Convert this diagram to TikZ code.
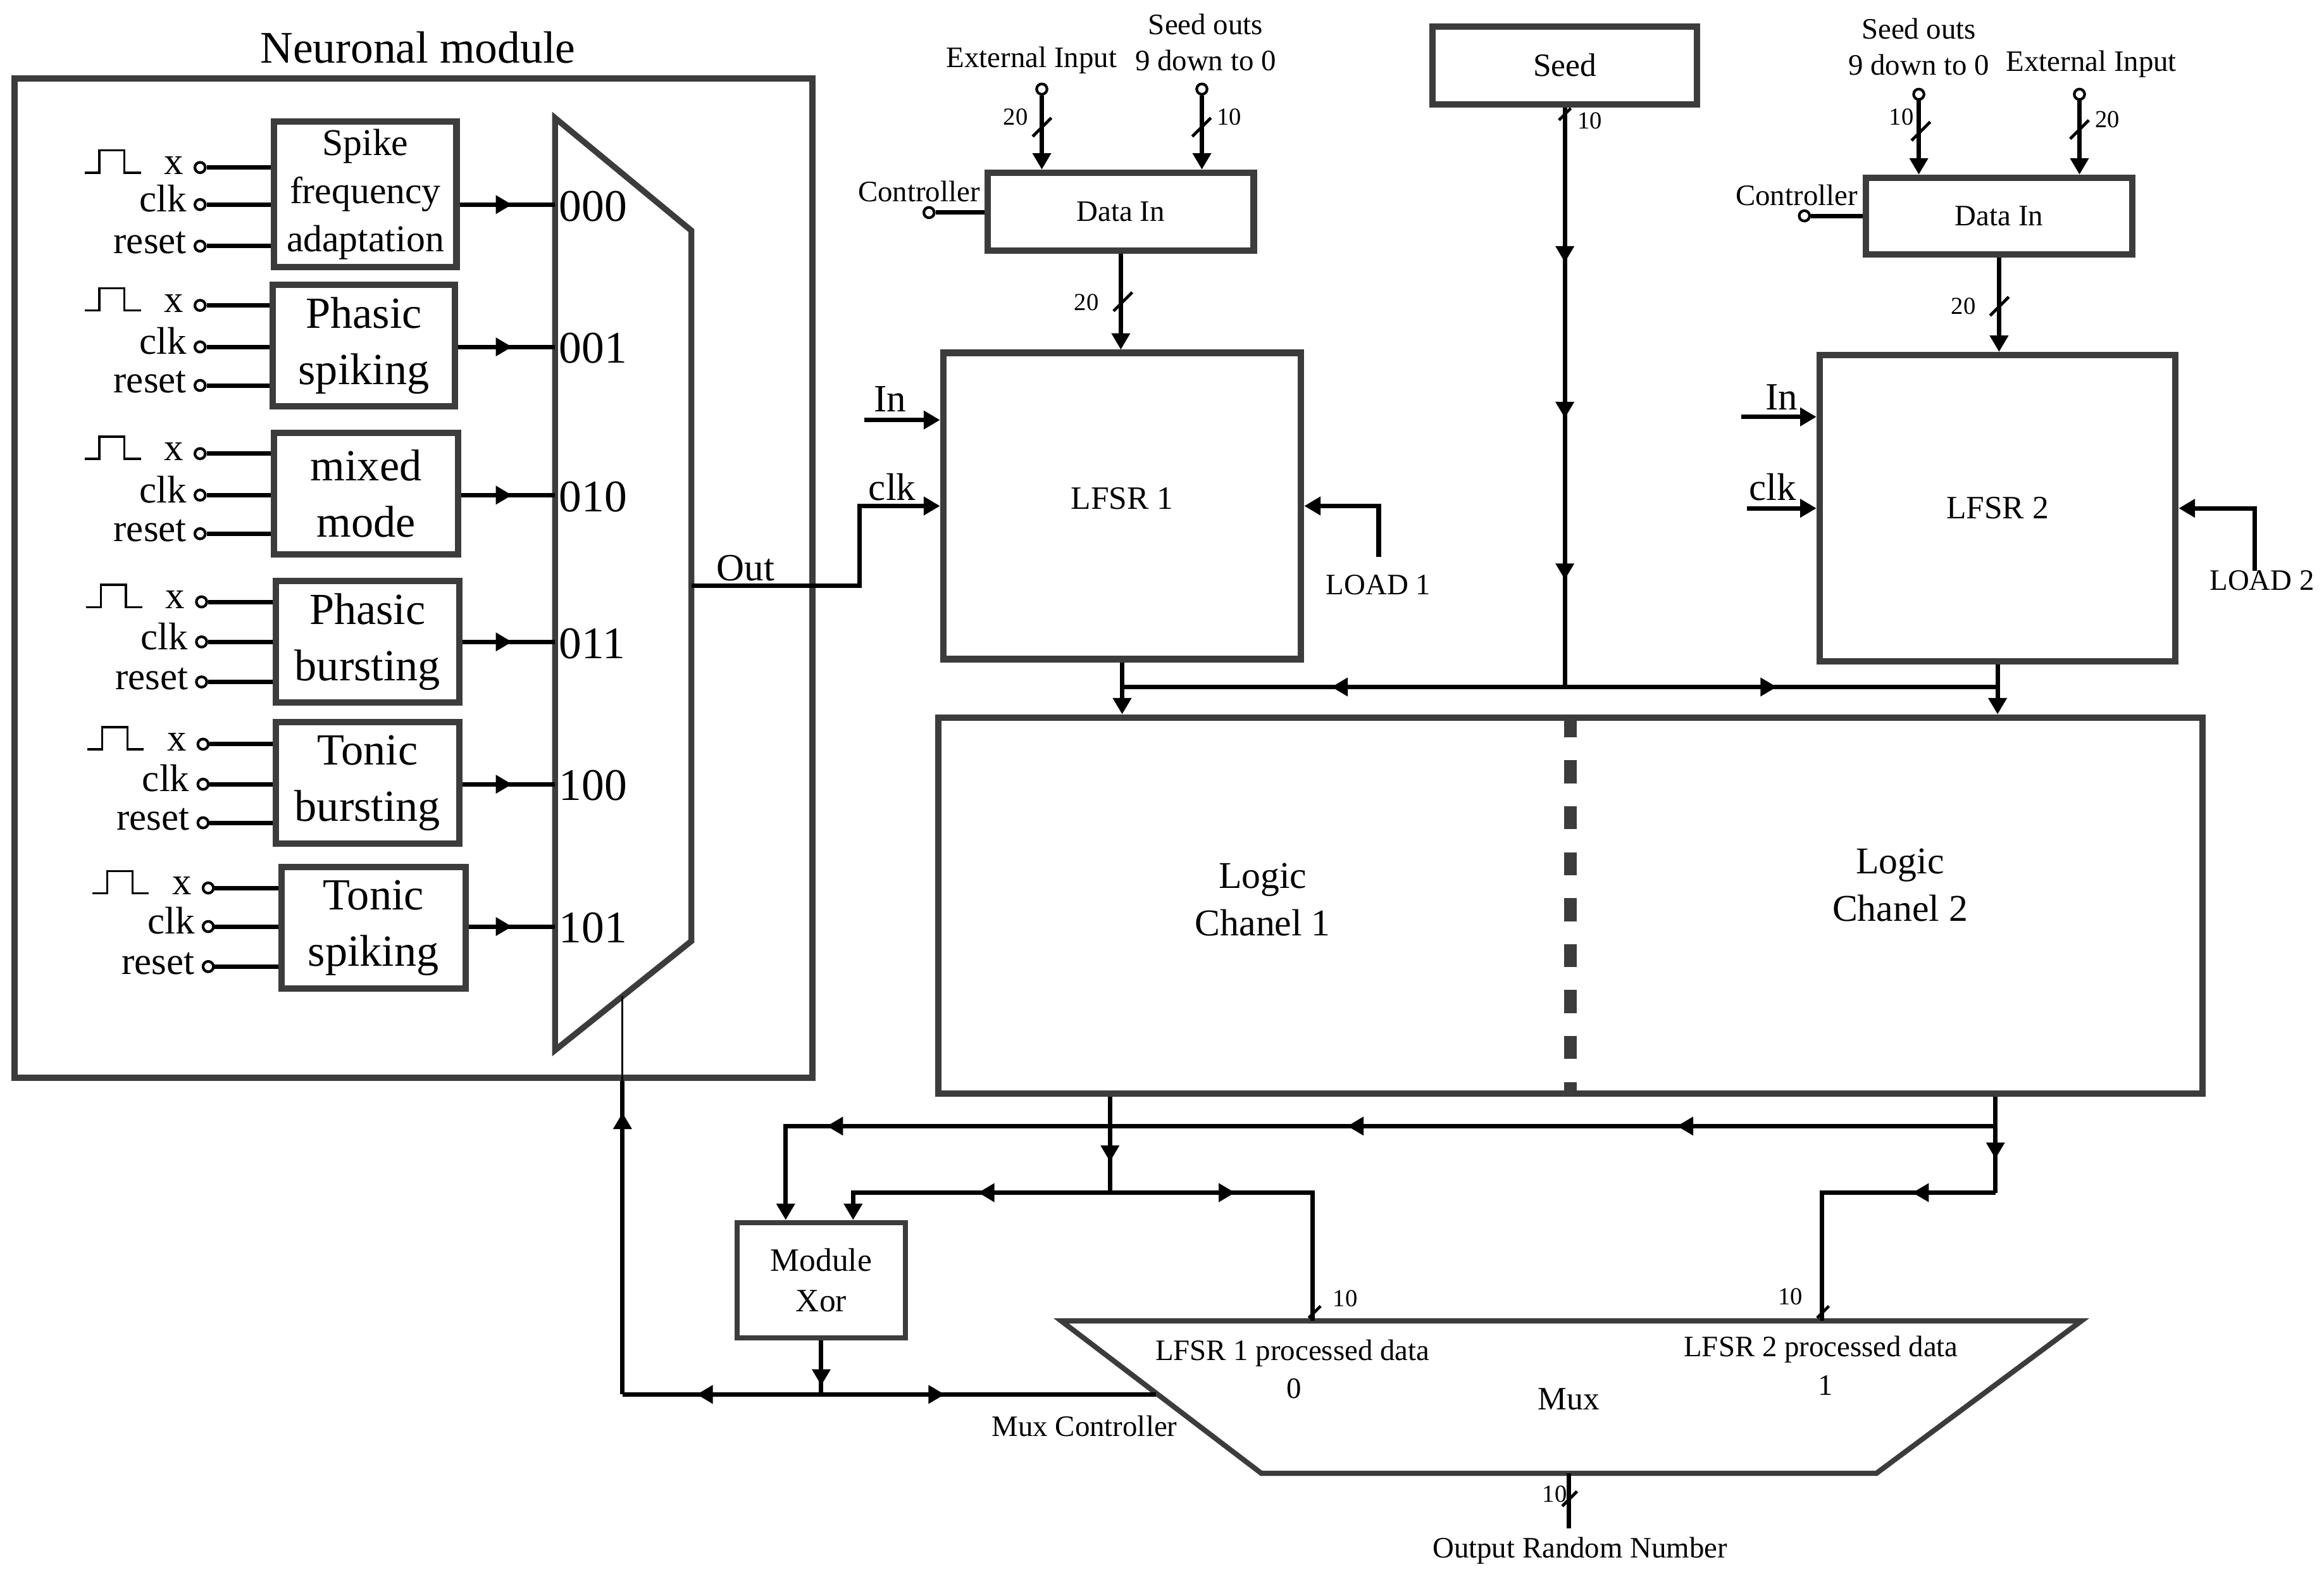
\documentclass[tikz,border=0pt]{standalone}
\usepackage{fontspec}
\setmainfont{Liberation Serif}
\usetikzlibrary{arrows.meta,decorations.markings}
\definecolor{boxgray}{RGB}{60,60,60}
\newcommand{\fnt}[2]{\fontsize{#1}{#2}\selectfont}
\tikzset{
  box/.style={draw=boxgray, line width=4.3pt, inner sep=0pt, align=center},
  muxshape/.style={draw=boxgray, line width=#1},
  wire/.style={line width=3pt},
  thinwire/.style={line width=1.4pt},
  arr/.style={-{Triangle[length=11pt,width=12pt]}},
  midarrow/.style={postaction={decorate,decoration={markings,
      mark=at position #1 with {\arrow{Triangle[length=11pt,width=12pt]}}}}},
  pin/.style={circle, draw, line width=1.8pt, minimum size=7pt, inner sep=0pt},
  lbl/.style={inner sep=0pt, align=center},
  pics/slash/.style={code={\draw[line width=2pt] (-#1,#1) -- (#1,-#1);}}
}
\begin{document}
\begin{tikzpicture}[x=1pt,y=-1pt]
\useasboundingbox (0,0) rectangle (1568,1065);

% neuronal module
\node[lbl, font=\fnt{30.5}{36}] (nmtitle) at (282,32) {Neuronal module};
\node[box, minimum width=538pt, minimum height=674pt] (nmod) at (279,390) {};
\coordinate (nmA) at (374.5,79.6);
\coordinate (nmB) at (466.5,155.6);
\coordinate (nmC) at (466.5,634.8);
\coordinate (nmD) at (374.5,708.4);
\draw[muxshape=4pt] (nmA) -- (nmB) -- (nmC) -- (nmD) -- cycle;

\foreach \nm/\cx/\cy/\w/\h/\fs/\bs/\txt in {
    sfa/246.5/131/123/98/25.5/32.5/{Spike\\frequency\\adaptation},
    ps/245.5/233/123/82/30/38/{Phasic\\spiking},
    mm/247/333/124/82/30/38/{mixed\\mode},
    pb/248/433/124/82/30/38/{Phasic\\bursting},
    tb/248/528/124/82/30/38/{Tonic\\bursting},
    ts/252/626/124/82/30/38/{Tonic\\spiking}}
  \node[box, minimum width=\w pt, minimum height=\h pt, font=\fnt{\fs}{\bs}] (\nm) at (\cx,\cy) {\txt};

\foreach \nm/\ya/\yb/\yc/\px/\code in {sfa/113/138/166/135/000, ps/206/234/260/135/001,
    mm/306/334/360/135/010, pb/406/433/460/136/011, tb/502/529/555/137/100, ts/599/625/652/140.5/101} {
  \node[pin] (\nm-x) at (\px,\ya) {};
  \node[pin] (\nm-clk) at (\px,\yb) {};
  \node[pin] (\nm-rst) at (\px,\yc) {};
  \node[lbl, anchor=base east, font=\fnt{26}{30}] (\nm-xl) at (\px-11,\ya+4.5) {x};
  \node[lbl, anchor=base east, font=\fnt{26}{30}] (\nm-clkl) at (\px-9,\yb+5) {clk};
  \node[lbl, anchor=base east, font=\fnt{26}{30}] (\nm-rstl) at (\px-9,\yc+5) {reset};
  \draw[thinwire] (\px-78,\ya+3.5) -- ++(10,0) -- ++(0,-15) -- ++(17,0) -- ++(0,15) -- ++(11,0);
  \foreach \p in {x,clk,rst}
    \draw[wire] (\nm-\p) -- (\nm-\p -| \nm.west);
  \draw[wire, midarrow=-29pt] (\nm.east |- \nm-clk) -- (\nm-clk -| nmA);
  \node[lbl, anchor=west, font=\fnt{30.5}{36}] (sel\code) at (377,\yb+1) {\code};
}

% mux output to LFSR 1 clock
\coordinate (nmout) at (466.5,395);
\node[lbl, font=\fnt{26}{30}] (outl) at (503,383) {Out};

% LFSR blocks
\node[box, minimum width=241.4pt, minimum height=206.6pt, font=\fnt{22}{26}, text depth=10pt] (lfsr1) at (757.1,341.3) {LFSR 1};
\node[box, minimum width=240.1pt, minimum height=206.7pt, font=\fnt{22}{26}] (lfsr2) at (1347.75,342.85) {LFSR 2};
\node[box, minimum width=179.4pt, minimum height=52.5pt, font=\fnt{20}{24}] (din1) at (756.2,142.75) {Data In};
\node[box, minimum width=179.7pt, minimum height=51.7pt, font=\fnt{20}{24}] (din2) at (1348.75,145.75) {Data In};
\node[box, minimum width=178.4pt, minimum height=52.6pt, font=\fnt{22}{26}] (seed) at (1055.8,44.1) {Seed};

\draw[wire, arr] (nmout) -- ++(113.5,0) |- (lfsr1.west);
\node[lbl, font=\fnt{26}{30}] (clk1l) at (602,328.7) {clk};
\coordinate (in1) at (583.3,283.3);
\draw[wire, arr] (in1) -- (in1 -| lfsr1.west);
\node[lbl, font=\fnt{26}{30}] (in1l) at (600.5,269) {In};
\coordinate (in2) at (1174.8,281.2);
\draw[wire, arr] (in2) -- (in2 -| lfsr2.west);
\node[lbl, font=\fnt{26}{30}] (in2l) at (1202,267.7) {In};
\coordinate (clk2) at (1178.6,342.85);
\draw[wire, arr] (clk2) -- (lfsr2.west);
\node[lbl, font=\fnt{26}{30}] (clk2l) at (1196,328.7) {clk};

\coordinate (ld1) at (930.2,375.7);
\draw[wire, arr] (ld1) |- (lfsr1.east);
\node[lbl, font=\fnt{20}{24}] (load1) at (930,394.5) {LOAD 1};
\coordinate (ld2) at (1521.2,385.1);
\draw[wire, arr] (ld2) |- (lfsr2.east);
\node[lbl, font=\fnt{20}{24}] (load2) at (1526.2,391.4) {LOAD 2};

% data in 1
\node[pin] (ext1) at (702.9,60.1) {};
\node[pin] (sdo1) at (810.9,60.1) {};
\node[pin] (ctl1) at (626.8,143.4) {};
\draw[wire, arr] (ext1) -- (ext1 |- din1.north);
\draw[wire, arr] (sdo1) -- (sdo1 |- din1.north);
\draw[wire] (ctl1) -- (ctl1 -| din1.west);
\pic at (703,85.8) {slash=6.3};
\pic at (810.7,85.8) {slash=6.3};
\node[lbl, font=\fnt{16.5}{20}] (ext1w) at (685.2,78.9) {20};
\node[lbl, font=\fnt{16.5}{20}] (sdo1w) at (829.3,78.9) {10};
\node[lbl, font=\fnt{20}{24}] (ext1l) at (696,40.7) {External Input};
\node[lbl, font=\fnt{20}{24.4}] (sdo1l) at (813.4,28.5) {Seed outs\\9 down to 0};
\node[lbl, font=\fnt{20}{24}] (ctl1l) at (620,129.3) {Controller};
\draw[wire, arr] (din1.south) -- (din1.south |- lfsr1.north);
\pic at (757.6,203.5) {slash=6.3};
\node[lbl, font=\fnt{16.5}{20}] (din1w) at (733,204) {20};

% data in 2
\node[pin] (sdo2) at (1294.6,63.6) {};
\node[pin] (ext2) at (1403,63.6) {};
\node[pin] (ctl2) at (1217.4,145.6) {};
\draw[wire, arr] (sdo2) -- (sdo2 |- din2.north);
\draw[wire, arr] (ext2) -- (ext2 |- din2.north);
\draw[wire] (ctl2) -- (ctl2 -| din2.west);
\pic at (1296,88.5) {slash=6.3};
\pic at (1403,87.4) {slash=6.3};
\node[lbl, font=\fnt{16.5}{20}] (sdo2w) at (1282.9,78.9) {10};
\node[lbl, font=\fnt{16.5}{20}] (ext2w) at (1421.9,80.8) {20};
\node[lbl, font=\fnt{20}{24.4}] (sdo2l) at (1294.6,31.6) {Seed outs\\9 down to 0};
\node[lbl, font=\fnt{20}{24}] (ext2l) at (1411,43.2) {External Input};
\node[lbl, font=\fnt{20}{24}] (ctl2l) at (1212.2,131.5) {Controller};
\draw[wire, arr] (din2.south) -- (din2.south |- lfsr2.north);
\pic at (1349,206.6) {slash=6.3};
\node[lbl, font=\fnt{16.5}{20}] (din2w) at (1324.7,206.6) {20};

% seed bus
\coordinate (seedj) at (1055.8,463.4);
\draw[wire, midarrow=104.5pt, midarrow=209.5pt, midarrow=318.5pt] (seed.south) -- (seedj);
\pic at (1055.8,77) {slash=4};
\node[lbl, font=\fnt{16.5}{20}] (seedw) at (1072.5,81.4) {10};
\draw[wire, midarrow=157.5pt] (seedj) -- (seedj -| lfsr1.south);
\draw[wire, midarrow=143pt] (seedj) -- (seedj -| lfsr2.south);

% logic channels
\node[box, minimum width=853pt, minimum height=253.5pt] (logic) at (1059.5,610.75) {};
\draw[wire, arr] (lfsr1.south) -- (lfsr1.south |- logic.north);
\draw[wire, arr] (lfsr2.south) -- (lfsr2.south |- logic.north);
\draw[boxgray, line width=8.5pt, dash pattern=on 15.5pt off 15.5pt] (logic.north) -- (logic.south);
\node[lbl, font=\fnt{25.5}{32}] (lc1) at (852,607) {Logic\\Chanel 1};
\node[lbl, font=\fnt{25.5}{32}] (lc2) at (1282,597) {Logic\\Chanel 2};

% xor and output mux
\node[box, line width=3.5pt, minimum width=113.6pt, minimum height=77.6pt, font=\fnt{22}{27}] (xor) at (554.1,863.5) {Module\\Xor};
\coordinate (mxA) at (716,891);
\coordinate (mxB) at (1404.3,891);
\coordinate (mxC) at (1266,993.8);
\coordinate (mxD) at (851,993.8);
\draw[muxshape=3.5pt] (mxA) -- (mxB) -- (mxC) -- (mxD) -- cycle;
\coordinate (mxin1) at (885.7,891);
\coordinate (mxin2) at (1229.3,891);
\coordinate (mxctl) at (780,940.6);

\coordinate (lo1) at (748.9,804.5);
\coordinate (lo2) at (1346.3,804.5);
\coordinate (lb2) at (1346.3,759.6);
\draw[wire, midarrow=44pt] (logic.south -| lo1) -- (lo1);
\draw[wire, midarrow=42pt] (logic.south -| lo2) -- (lo2);
\draw[wire, arr, midarrow=89pt] (lo1) -| ([xshift=21.5pt]xor.north);
\draw[wire, midarrow=84.4pt] (lo1) -| (mxin1);
\draw[wire, arr, midarrow=214.9pt, midarrow=437.3pt, midarrow=788.5pt] (lb2) -| ([xshift=-24pt]xor.north);
\draw[wire, midarrow=56pt] (lo2) -| (mxin2);
\pic at (887,885) {slash=4};
\pic at (1230,885) {slash=4};
\node[lbl, font=\fnt{16.5}{20}] (mx1w) at (907.7,875.8) {10};
\node[lbl, font=\fnt{16.5}{20}] (mx2w) at (1208,874.6) {10};

\coordinate (xj) at (554.1,940.6);
\coordinate (selb) at (420,940.6);
\coordinate (selt) at (420,672);
\draw[wire, midarrow=-6pt] (xor.south) -- (xj);
\draw[wire, midarrow=83.3pt] (xj) -- (mxctl);
\draw[wire, midarrow=84.1pt] (xj) -- (selb);
\draw[wire, midarrow=190pt] (selb) -- (nmod.south -| selb);
\draw[thinwire] (nmod.south -| selb) -- (selt);

\node[lbl, font=\fnt{20}{24}] (p1l) at (872,912.6) {LFSR 1 processed data};
\node[lbl, font=\fnt{20}{24}] (p1n) at (873,936.7) {0};
\node[lbl, font=\fnt{20}{24}] (p2l) at (1228.6,910.3) {LFSR 2 processed data};
\node[lbl, font=\fnt{20}{24}] (p2n) at (1231.6,934.4) {1};
\node[lbl, font=\fnt{22}{26}] (muxl) at (1058.5,943.7) {Mux};
\node[lbl, font=\fnt{20}{24}] (mxctll) at (731.7,962) {Mux Controller};

\coordinate (mxout) at (1058.5,993.8);
\coordinate (orn) at (1058.5,1031);
\draw[wire] (mxout) -- (orn);
\pic at (1059,1011) {slash=5};
\node[lbl, font=\fnt{16.5}{20}] (outw) at (1049,1008) {10};
\node[lbl, font=\fnt{20}{24}] (ornl) at (1066,1046) {Output Random Number};
\end{tikzpicture}
\end{document}
